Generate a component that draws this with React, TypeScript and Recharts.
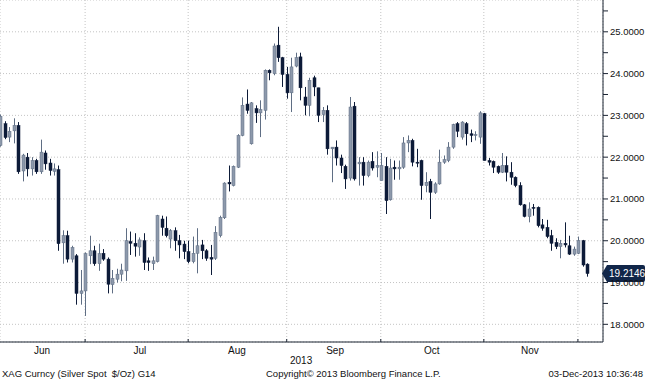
import React from 'react';
import { ComposedChart, Bar, XAxis, YAxis, CartesianGrid, ReferenceDot } from 'recharts';

// daily candles, Jun 3 2013 .. Dec 3 2013 (weekdays)
const opens = [
  22.28, 22.8, 22.48, 22.63, 22.76, 21.67, 22.0, 21.72, 21.92, 21.65, 22.1, 21.86, 21.66, 21.7, 19.95, 20.12, 19.56, 19.64, 18.74, 18.8,
  19.64, 19.76, 19.45, 19.7, 19.56, 18.95, 19.08, 19.2, 19.28, 19.98, 19.94, 19.85, 20.0, 19.52, 19.45, 19.5, 20.52, 20.3, 20.04, 20.24, 20.0, 19.92, 19.74,
  19.5, 19.7, 19.9, 19.76, 19.6, 19.58, 20.12, 20.55, 21.4, 21.32, 21.76, 22.52, 23.27, 22.32, 23.16, 23.06, 23.12, 24.08, 24.0, 24.68, 24.38, 23.98,
  23.54, 24.18, 24.4, 23.44, 23.24, 23.9, 23.66, 23.02, 23.12, 22.2, 22.24, 21.98, 21.78, 21.5, 23.22, 21.84, 21.88, 21.56, 21.9, 21.76, 21.44,
  21.78, 20.98, 21.76, 21.72, 21.76, 22.34, 22.4, 21.88, 21.92, 21.32, 21.42, 21.16, 21.36, 21.88, 21.92, 22.24, 22.8, 22.48, 22.8, 22.56, 22.52, 22.48, 23.04,
  21.92, 21.9, 21.78, 21.64, 21.8, 21.64, 21.52, 21.32, 20.86, 20.58, 20.8, 20.8, 20.38, 20.32, 20.12, 19.96, 19.86, 19.94, 19.88, 19.68, 19.7,
  20.0, 19.44,
];
const highs = [
  23.02, 22.86, 22.72, 22.93, 22.84, 22.08, 22.1, 22.0, 21.96, 22.42, 22.16, 21.96, 21.85, 21.8, 20.25, 20.24, 19.88, 19.68, 19.3, 19.72,
  20.12, 19.88, 19.93, 19.8, 19.6, 19.3, 19.33, 19.45, 20.3, 20.22, 20.18, 20.08, 20.18, 19.6, 19.62, 20.62, 20.6, 20.58, 20.28, 20.32, 20.14, 20.0, 20.0,
  20.1, 20.3, 20.02, 19.8, 19.9, 20.35, 20.6, 21.4, 21.8, 21.8, 22.55, 23.43, 23.62, 23.32, 23.24, 23.36, 24.1, 24.1, 24.72, 25.12, 24.4, 24.16,
  24.38, 24.5, 24.5, 23.68, 23.9, 23.95, 23.66, 23.2, 23.24, 22.24, 22.4, 22.06, 21.82, 23.44, 23.32, 22.0, 22.0, 21.92, 22.12, 22.14, 22.1,
  22.0, 21.96, 21.92, 21.92, 22.48, 22.52, 22.44, 22.2, 21.94, 21.64, 21.48, 21.4, 22.18, 22.04, 22.36, 22.8, 22.84, 22.86, 22.84, 22.66, 22.62, 23.1, 23.06,
  21.98, 21.92, 21.8, 22.1, 22.02, 21.88, 21.54, 21.4, 20.88, 20.92, 20.88, 20.82, 20.52, 20.5, 20.26, 20.06, 20.02, 20.44, 20.12, 19.86, 20.1,
  20.02, 19.46,
];
const lows = [
  22.25, 22.43, 22.36, 22.33, 21.6, 21.42, 21.54, 21.56, 21.6, 21.6, 21.7, 21.56, 21.56, 19.76, 19.45, 19.48, 19.48, 18.47, 18.47, 18.2,
  19.44, 19.4, 19.28, 19.52, 18.74, 18.74, 19.0, 19.03, 19.04, 19.66, 19.62, 19.64, 19.3, 19.28, 19.3, 19.48, 20.12, 20.08, 19.82, 19.76, 19.58, 19.56, 19.46,
  19.46, 19.22, 19.56, 19.52, 19.18, 19.54, 20.08, 20.52, 21.18, 21.3, 21.74, 22.5, 23.04, 22.3, 22.82, 22.48, 22.9, 23.84, 23.96, 24.28, 23.68, 23.4,
  23.08, 24.15, 23.36, 23.0, 22.98, 23.46, 22.84, 22.84, 22.06, 21.4, 21.8, 21.62, 21.24, 21.44, 21.44, 21.32, 21.32, 21.52, 21.68, 21.52, 21.44,
  20.64, 20.96, 21.46, 21.46, 21.72, 22.12, 21.78, 21.76, 20.98, 21.16, 20.52, 21.12, 21.34, 21.84, 21.88, 22.2, 22.48, 22.42, 22.28, 22.36, 22.4, 22.32, 21.92,
  21.8, 21.62, 21.6, 21.62, 21.42, 21.34, 21.28, 20.84, 20.56, 20.44, 20.6, 20.32, 20.24, 20.06, 19.76, 19.8, 19.58, 19.84, 19.66, 19.64, 19.68,
  19.38, 19.14,
];
const closes = [
  22.98, 22.47, 22.62, 22.76, 21.65, 22.05, 21.72, 21.92, 21.65, 22.12, 21.84, 21.68, 21.72, 19.93, 20.12, 19.56, 19.84, 18.74, 18.8, 19.69,
  19.76, 19.45, 19.69, 19.56, 18.96, 19.1, 19.2, 19.3, 20.0, 19.94, 19.87, 20.02, 19.48, 19.48, 19.52, 20.6, 20.32, 20.12, 20.24, 20.0, 19.9, 19.74, 19.5,
  19.7, 19.88, 19.76, 19.58, 19.56, 20.2, 20.56, 21.38, 21.36, 21.78, 22.52, 23.24, 23.12, 23.3, 23.06, 23.14, 24.08, 24.02, 24.66, 24.38, 23.98, 23.54,
  24.16, 24.38, 23.66, 23.24, 23.84, 23.68, 23.0, 23.12, 22.2, 22.24, 21.98, 21.8, 21.48, 23.2, 21.48, 21.88, 21.56, 21.88, 21.74, 21.8, 21.8,
  20.96, 21.74, 21.72, 21.76, 22.34, 22.4, 21.88, 21.86, 21.32, 21.4, 21.16, 21.36, 21.88, 21.94, 22.24, 22.78, 22.62, 22.84, 22.56, 22.52, 22.54, 23.06, 21.92,
  21.88, 21.76, 21.64, 21.8, 21.64, 21.52, 21.32, 20.86, 20.58, 20.76, 20.78, 20.36, 20.3, 20.1, 19.94, 19.86, 19.94, 19.9, 19.68, 19.8, 20.0,
  19.42, 19.2146,
];

const monthEnds = [19, 42, 64, 85, 108, 129];
const monthTicks = [9.4, 31.2, 52.9, 74.8, 96.4, 118.3];
const monthLabels = ['Jun', 'Jul', 'Aug', 'Sep', 'Oct', 'Nov'];
const priceTicks = [18, 18.5, 19, 19.5, 20, 20.5, 21, 21.5, 22, 22.5, 23, 23.5, 24, 24.5, 25, 25.5];
const gridPrices = [18, 19, 20, 21, 22, 23, 24, 25];
const lastPrice = 19.2146;

const FONT = "'Liberation Sans', Arial, sans-serif";
const UP = '#8d99ab';
const UP_EDGE = '#5f6e84';
const DOWN = '#0d1b38';
const X_DOMAIN = [0, 134.6];
const Y_DOMAIN = [17.577, 25.761];

const data = opens.map((o, i) => ({
  i,
  range: [lows[i], highs[i]],
  open: o,
  high: highs[i],
  low: lows[i],
  close: closes[i],
}));

const Candle = (props: any) => {
  const { x, y, width, height, payload } = props;
  if (x == null || y == null) return null;
  const top = Math.min(y, y + height);
  const h = Math.abs(height);
  const { open, close, high, low } = payload;
  const span = high - low || 1;
  const py = (v: number) => top + ((high - v) / span) * h;
  const up = close >= open;
  const bTop = py(Math.max(open, close));
  const bH = Math.max(1, py(Math.min(open, close)) - bTop);
  const cx = Math.round(x + width / 2) + 0.5;
  return (
    <g>
      <line x1={cx} x2={cx} y1={top} y2={top + h} stroke={up ? UP_EDGE : DOWN} strokeWidth={1} />
      <rect
        x={cx - 1.5}
        y={bTop}
        width={3}
        height={bH}
        fill={up ? UP : DOWN}
        stroke={up ? UP_EDGE : DOWN}
        strokeWidth={0.5}
      />
    </g>
  );
};

// last-price tag sitting on the right axis
const Tag = (props: any) => {
  const { cx, cy } = props;
  if (cx == null || cy == null) return null;
  const left = cx + 4;
  return (
    <g>
      <path
        d={`M${cx - 1},${cy} L${left},${cy - 8.5} L643,${cy - 8.5} Q645,${cy - 8.5} 645,${cy - 6.5} L645,${cy + 6.5} Q645,${cy + 8.5} 643,${cy + 8.5} L${left},${cy + 8.5} Z`}
        fill="#112649"
      />
      <text x={cx + 6} y={cy + 3.5} fill="#fff" fontSize={10} fontFamily={FONT}>
        {lastPrice.toFixed(4)}
      </text>
    </g>
  );
};

const txt: React.CSSProperties = {
  position: 'absolute',
  fontFamily: FONT,
  fontSize: 9.5,
  color: '#111',
  lineHeight: 1,
  whiteSpace: 'pre',
};

export default function App() {
  return (
    <div style={{ position: 'absolute', left: 0, top: 0, width: 645, height: 380, background: '#fff', overflow: 'hidden' }}>
      <ComposedChart width={645} height={380} data={data} margin={{ top: 0, right: 0, left: 0, bottom: 0 }}>
        <XAxis
          xAxisId="grid"
          dataKey="i"
          type="number"
          domain={X_DOMAIN}
          ticks={monthEnds}
          interval={0}
          mirror
          height={1}
          tickSize={3}
          tickFormatter={() => ''}
          stroke="#1b2433"
        />
        <XAxis
          xAxisId="m"
          dataKey="i"
          type="number"
          domain={X_DOMAIN}
          ticks={monthTicks}
          interval={0}
          tickFormatter={(v: number) => monthLabels[monthTicks.indexOf(v)]}
          axisLine={false}
          tickLine={false}
          tickSize={0}
          tickMargin={5}
          height={38}
          tick={{ fill: '#111', fontSize: 10, fontFamily: FONT }}
        />
        <YAxis
          yAxisId="p"
          orientation="right"
          type="number"
          domain={Y_DOMAIN}
          allowDataOverflow
          ticks={priceTicks}
          interval={0}
          width={42}
          tickSize={5}
          tickMargin={2}
          tickFormatter={(v: number) => (Number.isInteger(v) ? v.toFixed(4) : '')}
          stroke="#1b2433"
          tick={{ fill: '#111', fontSize: 9.5, fontFamily: FONT }}
        />
        <YAxis
          yAxisId="g"
          orientation="right"
          type="number"
          domain={Y_DOMAIN}
          allowDataOverflow
          ticks={gridPrices}
          width={0}
          hide
        />
        <CartesianGrid xAxisId="grid" yAxisId="g" stroke="#c4c4c4" strokeDasharray="1 2" />
        <Bar xAxisId="m" yAxisId="p" dataKey="range" shape={<Candle />} barSize={3} isAnimationActive={false} />
        <ReferenceDot xAxisId="m" yAxisId="p" x={X_DOMAIN[1]} y={lastPrice} r={0} shape={Tag} ifOverflow="visible" />
      </ComposedChart>
      <div style={{ ...txt, fontSize: 10, left: 290, top: 356 }}>2013</div>
      <div style={{ ...txt, left: 2, top: 369 }}>XAG Curncy (Silver Spot  $/Oz) G14</div>
      <div style={{ ...txt, left: 266, top: 369 }}>Copyright© 2013 Bloomberg Finance L.P.</div>
      <div style={{ ...txt, right: 2, top: 369 }}>03-Dec-2013 10:36:48</div>
    </div>
  );
}
